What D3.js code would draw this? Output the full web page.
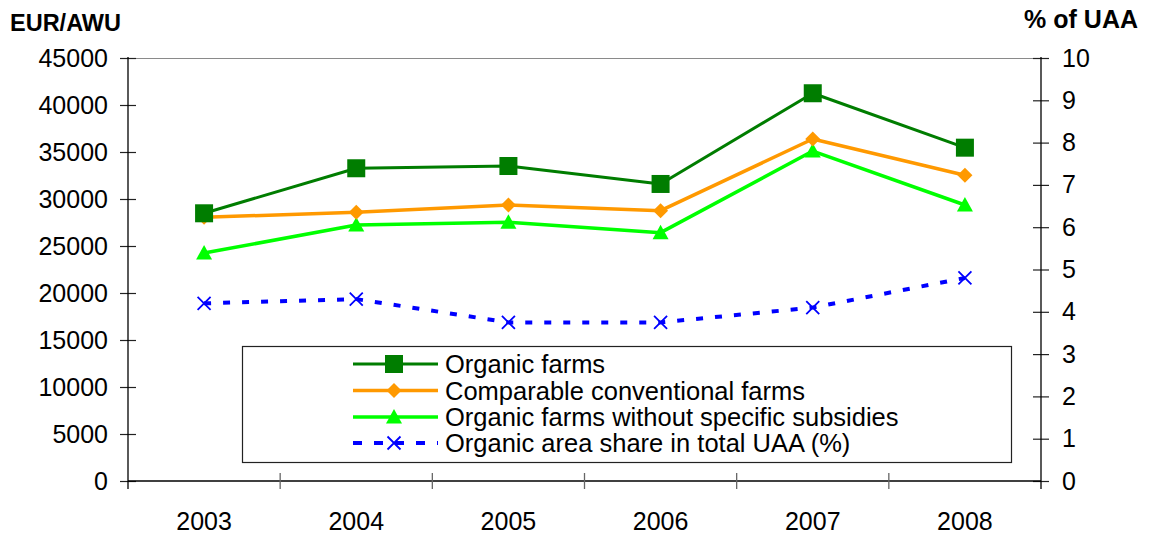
<!DOCTYPE html>
<html>
<head>
<meta charset="utf-8">
<script src="https://cdn.jsdelivr.net/npm/d3@7"></script>
<style>
  html, body { margin: 0; padding: 0; background: #fff; }
  svg { display: block; }
  text { font-family: "Liberation Sans", Arial, sans-serif; fill: #000; }
</style>
</head>
<body>
<svg id="chart" width="1151" height="535"></svg>
<script>
// Income per annual work unit (EUR/AWU) and organic area share (% of UAA)
const years = ["2003", "2004", "2005", "2006", "2007", "2008"];
const organicFarms = [28480, 33270, 33510, 31600, 41250, 35460];
const conventionalFarms = [28050, 28590, 29360, 28760, 36380, 32520];
const organicNoSubsidies = [24250, 27230, 27520, 26420, 35100, 29360];
const organicAreaShare = [4.2, 4.3, 3.75, 3.75, 4.1, 4.8];

const leftTicks = d3.range(0, 45001, 5000);
const rightTicks = d3.range(0, 11, 1);

const svg = d3.select("#chart");
const plot = { left: 128, right: 1041, top: 58, bottom: 481 };

const x = d3.scaleBand().domain(years).range([plot.left, plot.right]).paddingInner(0).paddingOuter(0);
const yL = d3.scaleLinear().domain([0, 45000]).range([plot.bottom, plot.top]);
const yR = d3.scaleLinear().domain([0, 10]).range([plot.bottom, plot.top]);
const cx = d => x(d) + x.bandwidth() / 2;

// top border of plot area
svg.append("line")
  .attr("x1", plot.left).attr("x2", plot.right)
  .attr("y1", plot.top + 0.5).attr("y2", plot.top + 0.5)
  .attr("stroke", "#8a8a8a").attr("stroke-width", 1.2);

// left axis
const gL = svg.append("g").attr("transform", `translate(${plot.left},0)`)
  .call(d3.axisLeft(yL).tickValues(leftTicks).tickSize(8).tickPadding(12).tickFormat(d3.format("d")));
gL.select(".domain").remove();
gL.selectAll(".tick line").attr("x1", 8).attr("x2", -8).attr("stroke", "#222").attr("stroke-width", 1.2);
gL.selectAll(".tick text").attr("font-size", 25).attr("font-family", "Liberation Sans, Arial, sans-serif");
svg.append("line").attr("x1", plot.left).attr("x2", plot.left)
  .attr("y1", plot.top - 1).attr("y2", plot.bottom + 8)
  .attr("stroke", "#000").attr("stroke-width", 1.3);

// right axis
const gR = svg.append("g").attr("transform", `translate(${plot.right},0)`)
  .call(d3.axisRight(yR).tickValues(rightTicks).tickSize(8).tickPadding(13).tickFormat(d3.format("d")));
gR.select(".domain").remove();
gR.selectAll(".tick line").attr("x1", -8).attr("x2", 8).attr("stroke", "#222").attr("stroke-width", 1.2);
gR.selectAll(".tick text").attr("font-size", 25).attr("font-family", "Liberation Sans, Arial, sans-serif");
svg.append("line").attr("x1", plot.right).attr("x2", plot.right)
  .attr("y1", plot.top - 1).attr("y2", plot.bottom + 8)
  .attr("stroke", "#000").attr("stroke-width", 1.3);

// category axis
svg.append("line").attr("x1", plot.left).attr("x2", plot.right)
  .attr("y1", plot.bottom).attr("y2", plot.bottom)
  .attr("stroke", "#000").attr("stroke-width", 1.3);
svg.append("g").selectAll("line").data(years.slice(1)).join("line")
  .attr("x1", d => x(d)).attr("x2", d => x(d))
  .attr("y1", plot.bottom - 8).attr("y2", plot.bottom + 8)
  .attr("stroke", "#666").attr("stroke-width", 1.3);
svg.append("g").selectAll("text").data(years).join("text")
  .attr("x", cx).attr("y", plot.bottom + 49)
  .attr("text-anchor", "middle").attr("font-size", 25)
  .text(d => d);

// axis titles
svg.append("text").attr("x", 10).attr("y", 31)
  .attr("font-family", "Open Sans, sans-serif").attr("font-weight", 700).attr("font-size", 23.5)
  .text("EUR/AWU");
svg.append("text").attr("x", 1138).attr("y", 28).attr("text-anchor", "end")
  .attr("font-weight", 700).attr("font-size", 25)
  .text("% of UAA");

// marker shapes
const sq = 18;
function drawMarker(g, type, color) {
  if (type === "square") {
    g.append("rect").attr("x", -sq / 2).attr("y", -sq / 2).attr("width", sq).attr("height", sq)
      .attr("fill", color);
  } else if (type === "diamond") {
    g.append("path").attr("d", "M0,-7.5L7.5,0L0,7.5L-7.5,0Z").attr("fill", color);
  } else if (type === "triangle") {
    g.append("path").attr("d", "M0,-8L8,6.5L-8,6.5Z").attr("fill", color);
  } else if (type === "cross") {
    g.append("path").attr("d", "M-6.5,-6.5L6.5,6.5M-6.5,6.5L6.5,-6.5").attr("stroke", color).attr("stroke-width", 1.8).attr("fill", "none");
  }
}

const series = [
  { name: "Organic farms", values: organicFarms, y: yL, color: "#007d00", width: 3, marker: "square", dash: null },
  { name: "Comparable conventional farms", values: conventionalFarms, y: yL, color: "#ff9900", width: 3.5, marker: "diamond", dash: null },
  { name: "Organic farms without specific subsidies", values: organicNoSubsidies, y: yL, color: "#00ff00", width: 3.5, marker: "triangle", dash: null },
  { name: "Organic area share in total UAA (%)", values: organicAreaShare, y: yR, color: "#0000ff", width: 4, marker: "cross", dash: "7 12" }
];

// draw series (area share first so it sits underneath)
[series[3], series[2], series[1], series[0]].forEach(s => {
  const pts = years.map((yr, i) => [cx(yr), s.y(s.values[i])]);
  svg.append("path").attr("d", d3.line()(pts))
    .attr("fill", "none").attr("stroke", s.color).attr("stroke-width", s.width)
    .attr("stroke-dasharray", s.dash).attr("stroke-linejoin", "round");
  pts.forEach(p => drawMarker(svg.append("g").attr("transform", `translate(${p[0]},${p[1]})`), s.marker, s.color));
});

// legend
const legend = svg.append("g");
legend.append("rect").attr("x", 242.5).attr("y", 346.5).attr("width", 769).attr("height", 116)
  .attr("fill", "#fff").attr("stroke", "#222").attr("stroke-width", 1.2);
const rowY = [364, 390.5, 417, 443];
series.forEach((s, i) => {
  const g = legend.append("g").attr("transform", `translate(0,${rowY[i]})`);
  g.append("line").attr("x1", 353).attr("x2", 438).attr("y1", 0).attr("y2", 0)
    .attr("stroke", s.color).attr("stroke-width", s.width).attr("stroke-dasharray", s.dash ? "9 12" : null);
  drawMarker(g.append("g").attr("transform", "translate(394,0)"), s.marker, s.color);
  g.append("text").attr("x", 445).attr("y", 9).attr("font-size", 25.5).text(s.name);
});
</script>
</body>
</html>
